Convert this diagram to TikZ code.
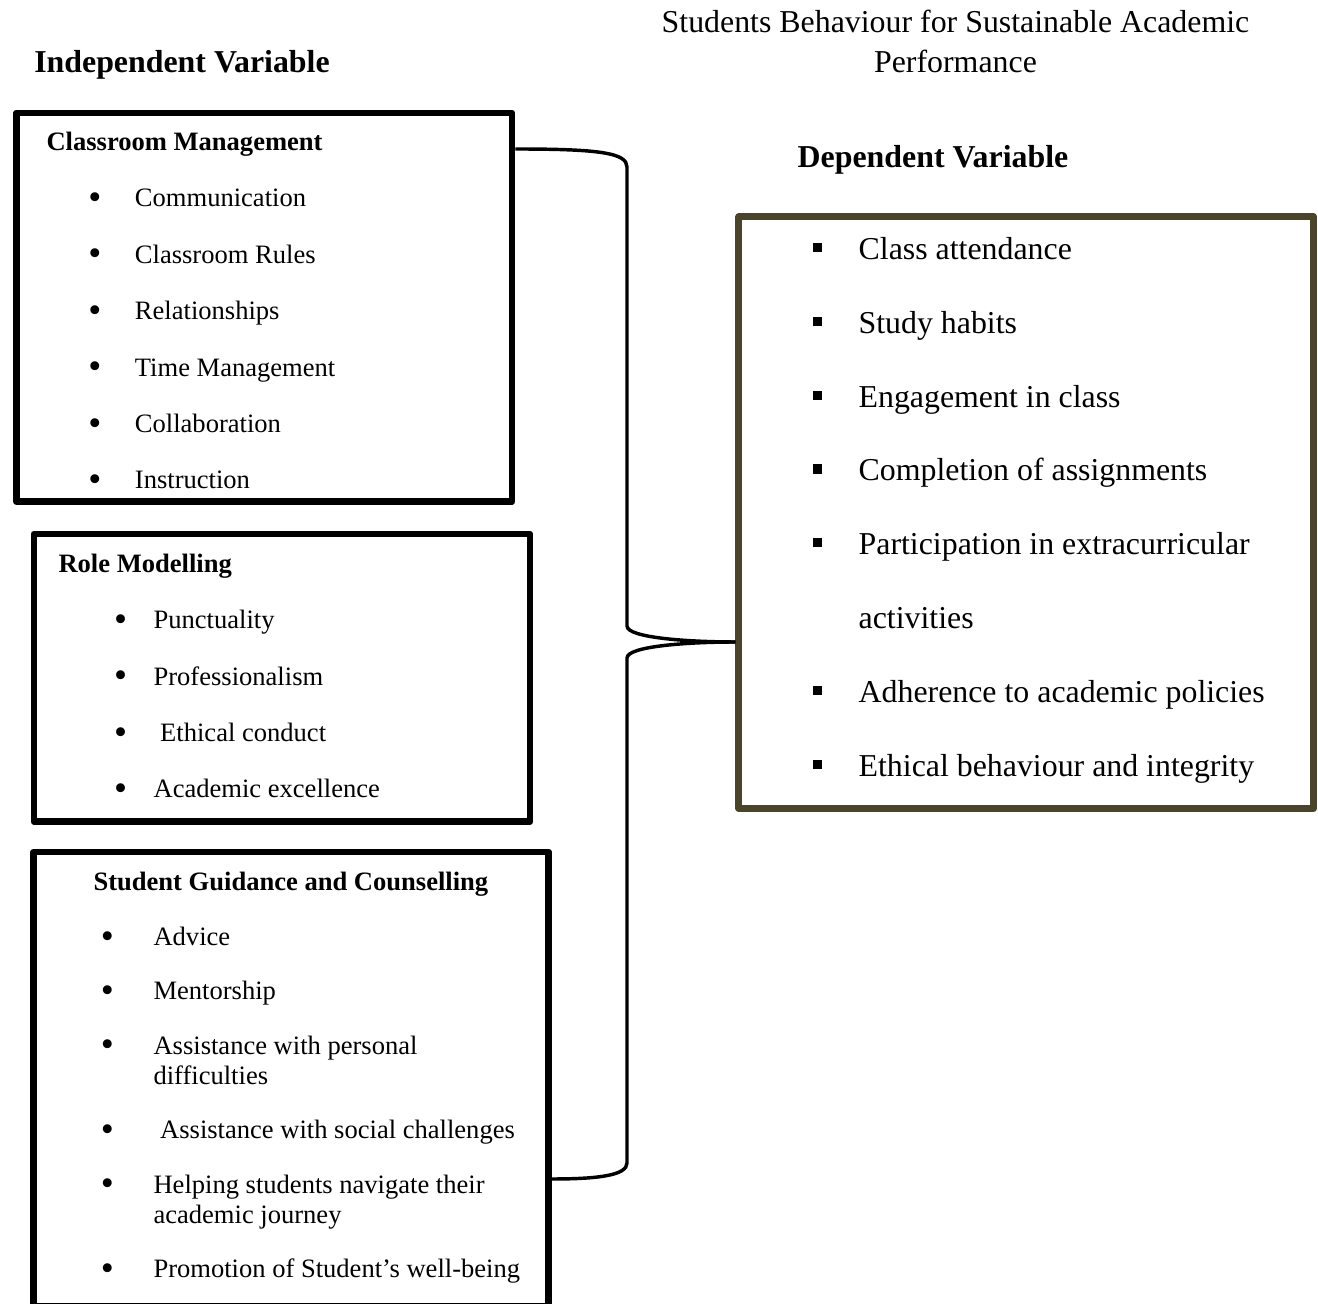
\documentclass[tikz,border=0pt]{standalone}
\usepackage{fontspec}
\setmainfont{Liberation Serif}
\usepackage{xcolor}
\definecolor{dvcolor}{HTML}{4A452A}
\newcommand{\rbul}{\raisebox{-1pt}{\scalebox{1.4}{\textbullet}}}
\newcommand{\sqbul}{\rule[2.8pt]{3.4pt}{3.4pt}}
\tikzset{
    varbox/.style={
           rectangle,
           draw=black, line width=2.6pt,
           line join=round,
           inner sep=0pt,
           },
    depbox/.style={
           varbox,
           draw=dvcolor,
           },
    frameless/.style={
           %rectangle,
           %draw=black,
           inner sep=0pt,
           anchor=base west,
           font=\fontsize{10pt}{12pt}\selectfont,
           },
    heading/.style={
           frameless,
           anchor=base,
           font=\fontsize{12pt}{15.1pt}\selectfont,
           },
    link/.style={
           draw=black, line width=1.3pt,
           },
}

\begin{document}
\begin{tikzpicture}[x=0.3766pt, y=-0.3766pt]
	\useasboundingbox (0,0) rectangle (1318,1304);
	% headings
	\node[heading] (title) at (955.5,32.5) {
		\begin{tabular}[t]{@{}c@{}}
		Students Behaviour for Sustainable Academic\\
		Performance
		\end{tabular}
	};
	\node[heading] (ivhead) at (182,72.5) {\textbf{Independent Variable}};
	\node[heading] (dvhead) at (933,167.5) {\textbf{Dependent Variable}};

	% boxes
	\node[varbox, minimum width=186.6pt, minimum height=146.3pt] (cm) at (264.25,307.25) {};
	\node[varbox, minimum width=186.8pt, minimum height=108.3pt] (rm) at (282,677.75) {};
	\node[varbox, minimum width=193.8pt, minimum height=171pt] (sg) at (291.25,1079) {};
	\node[depbox, minimum width=216.4pt, minimum height=222.8pt] (dv) at (1026.25,512.75) {};

	% lists
	\node[frameless] (cmlist) at (46,150.5) {
		\begin{tabular}[t]{@{\hspace{15.8pt}}p{17.5pt}@{}l@{}}
		\multicolumn{2}{@{}l@{}}{\textbf{Classroom Management}}\\[9.24pt]
		\rbul & Communication\\[9.24pt]
		\rbul & Classroom Rules\\[9.24pt]
		\rbul & Relationships\\[9.24pt]
		\rbul & Time Management\\[9.24pt]
		\rbul & Collaboration\\[9.24pt]
		\rbul & Instruction
		\end{tabular}
	};
	\node[frameless] (rmlist) at (58,572.5) {
		\begin{tabular}[t]{@{\hspace{20.9pt}}p{14.9pt}@{}l@{}}
		\multicolumn{2}{@{}l@{}}{\textbf{Role Modelling}}\\[9.2pt]
		\rbul & Punctuality\\[9.2pt]
		\rbul & Professionalism\\[9.2pt]
		\rbul & \ Ethical conduct\\[9.2pt]
		\rbul & Academic excellence
		\end{tabular}
	};
	\node[frameless, font=\fontsize{10pt}{11.3pt}\selectfont] (sglist) at (93,891) {
		\begin{tabular}[t]{@{\hspace{2.8pt}}p{19.8pt}@{}l@{}}
		\multicolumn{2}{@{}l@{}}{\textbf{Student Guidance and Counselling}}\\[9.2pt]
		\rbul & Advice\\[9.2pt]
		\rbul & Mentorship\\[9.2pt]
		\rbul & Assistance with personal\\
		      & difficulties\\[9.2pt]
		\rbul & \ Assistance with social challenges\\[9.2pt]
		\rbul & Helping students navigate their\\
		      & academic journey\\[9.2pt]
		\rbul & Promotion of Student's well-being
		\end{tabular}
	};
	\node[frameless, font=\fontsize{12pt}{13.8pt}\selectfont] (dvlist) at (812.7,259.5) {
		\begin{tabular}[t]{@{}p{17.1pt}@{}l@{}}
		\sqbul & Class attendance\\[14pt]
		\sqbul & Study habits\\[14pt]
		\sqbul & Engagement in class\\[14pt]
		\sqbul & Completion of assignments\\[14pt]
		\sqbul & Participation in extracurricular\\[14pt]
		       & activities\\[14pt]
		\sqbul & Adherence to academic policies\\[14pt]
		\sqbul & Ethical behaviour and integrity
		\end{tabular}
	};

	% brace
	\coordinate (tip) at (dv.west |- 0,642);
	\draw[link] (cm.east |- 0,149) .. controls (600,149) and (627,153) .. (627,167)
		-- (627,626) .. controls (627,638) and (690,642) .. (tip);
	\draw[link] (tip) .. controls (690,642) and (627,646) .. (627,658)
		-- (627,1163) .. controls (627,1175) and (600,1179) .. (sg.east |- 0,1179);
\end{tikzpicture}
\end{document}
